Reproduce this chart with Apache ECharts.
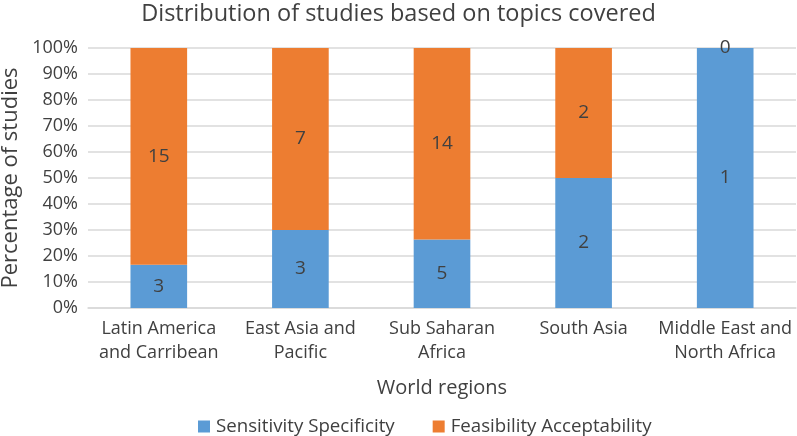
<!DOCTYPE html>
<html>
<head>
<meta charset="utf-8">
<script src="https://cdn.jsdelivr.net/npm/echarts@6/dist/echarts.min.js"></script>
<style>
  html, body { margin: 0; padding: 0; background: #fff; }
  #chart { width: 797px; height: 436px; }
</style>
</head>
<body>
<div id="chart"></div>
<script>
// regions on the x axis
var regions = ['Latin America\nand Carribean', 'East Asia and\nPacific', 'Sub Saharan\nAfrica', 'South Asia', 'Middle East and\nNorth Africa']
// number of studies per topic
var sensitivity = [3, 3, 5, 2, 1]
var feasibility = [15, 7, 14, 2, 0]
var yTicks = [0, 10, 20, 30, 40, 50, 60, 70, 80, 90, 100]

var fontFam = '"Open Sans", sans-serif'
var txt = '#404040'

// share of each region's studies, counts kept for the labels
function share (arr, i) {
  var total = sensitivity[i] + feasibility[i]
  return { value: arr[i] / total * 100, count: arr[i] }
}
var sensData = sensitivity.map(function (v, i) { return share(sensitivity, i) })
var feasData = feasibility.map(function (v, i) { return share(feasibility, i) })

var myChart = echarts.init(document.getElementById('chart'))
var option = {
  animation: false,
  title: {
    text: 'Distribution of studies based on topics covered',
    left: 'center',
    top: -3,
    textStyle: { fontFamily: fontFam, fontSize: 23.5, fontWeight: 'normal', color: txt }
  },
  legend: {
    data: ['Sensitivity Specificity', 'Feasibility Acceptability'],
    bottom: -5,
    left: 193,
    itemWidth: 12,
    itemHeight: 12,
    itemGap: 38,
    itemStyle: { borderWidth: 0 },
    icon: 'rect',
    textStyle: { fontFamily: fontFam, fontSize: 18.7, color: txt, padding: [0, 0, 0, 1] }
  },
  grid: {
    left: 88,
    right: 1,
    top: 48,
    bottom: 128,
    outerBoundsMode: 'none'
  },
  xAxis: {
    type: 'category',
    data: regions,
    name: 'World regions',
    nameLocation: 'middle',
    nameGap: 70,
    nameTextStyle: { fontFamily: fontFam, fontSize: 20, color: txt },
    axisTick: { show: false },
    axisLine: { lineStyle: { color: '#d9d9d9', width: 1.5 } },
    axisLabel: { interval: 0, fontFamily: fontFam, fontSize: 18, color: txt, lineHeight: 24, margin: 9 }
  },
  yAxis: {
    type: 'value',
    min: 0,
    max: 100,
    interval: 10,
    name: 'Percentage of studies',
    nameLocation: 'middle',
    nameGap: 62,
    nameTextStyle: { fontFamily: fontFam, fontSize: 22, color: txt },
    axisLabel: {
      fontFamily: fontFam, fontSize: 18, color: txt, margin: 10,
      formatter: function (v) { return yTicks.indexOf(v) >= 0 ? v + '%' : '' }
    },
    splitLine: { lineStyle: { color: '#d9d9d9', width: 1.5 } }
  },
  series: [
    {
      name: 'Sensitivity Specificity',
      type: 'bar',
      stack: 'all',
      barWidth: '40%',
      color: '#5B9BD5',
      data: sensData,
      label: {
        show: true,
        position: 'inside',
        fontFamily: fontFam, fontSize: 19, color: txt,
        formatter: function (p) { return p.data.count }
      }
    },
    {
      name: 'Feasibility Acceptability',
      type: 'bar',
      stack: 'all',
      barWidth: '40%',
      color: '#ED7D31',
      data: feasData,
      label: {
        show: true,
        position: 'inside',
        fontFamily: fontFam, fontSize: 19, color: txt,
        formatter: function (p) { return p.data.count }
      }
    }
  ]
}
myChart.setOption(option)
</script>
</body>
</html>
